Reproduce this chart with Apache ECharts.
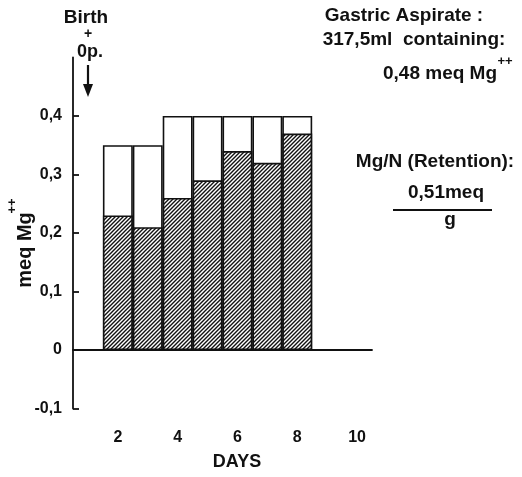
<!DOCTYPE html>
<html><head><meta charset="utf-8">
<script src="https://cdn.jsdelivr.net/npm/echarts@6/dist/echarts.min.js"></script>
<style>html,body{margin:0;padding:0;background:#fff}#c{width:522px;height:477px}</style>
</head><body><div id="c"></div>
<script>
const days = ['1','2','3','4','5','6','7','8','9','10'];
const totalMg = [null,0.35,0.35,0.40,0.40,0.40,0.40,0.40,null,null];
const retainedMg = [null,0.23,0.21,0.26,0.29,0.34,0.32,0.37,null,null];
const yTicks = [-0.1,0,0.1,0.2,0.3,0.4];

const FONT = "'Liberation Sans', Arial, sans-serif";
const INK = '#111';

function hatch(){
  const c = document.createElement('canvas');
  c.width = 4; c.height = 4;
  const g = c.getContext('2d');
  g.fillStyle = '#fff'; g.fillRect(0,0,4,4);
  g.strokeStyle = '#111'; g.lineWidth = 1.4;
  g.beginPath();
  g.moveTo(-1,5); g.lineTo(5,-1);
  g.moveTo(-1,1); g.lineTo(1,-1);
  g.moveTo(3,5); g.lineTo(5,3);
  g.stroke();
  return c;
}

const chart = echarts.init(document.getElementById('c'), null, {renderer:'canvas'});
const txt = (x,y,t,size,extra) => Object.assign({type:'text', x, y, style:{text:t, fill:INK, font:`bold ${size}px ${FONT}`, textAlign:'center', textVerticalAlign:'middle'}}, extra||{});

chart.setOption({
  animation:false,
  grid:{left:73, right:150, top:57.5, bottom:68.5, containLabel:false, outerBoundsMode:'none'},
  xAxis:{type:'category', data:days, boundaryGap:true,
    axisLine:{onZero:true, lineStyle:{color:INK, width:1.8}},
    axisTick:{show:false},
    axisLabel:{interval:(i,v)=>(+v)%2===0, margin:21, color:INK, fontSize:16, fontWeight:'bold', fontFamily:FONT},
    splitLine:{show:false}},
  yAxis:{type:'value', min:-0.1, max:0.5, interval:0.1,
    axisLine:{show:true, onZero:false, lineStyle:{color:INK, width:1.8}},
    axisTick:{show:true, inside:true, length:6, lineStyle:{color:INK, width:1.8}, customValues:yTicks},
    axisLabel:{customValues:yTicks, margin:11, color:INK, fontSize:16, fontWeight:'bold', fontFamily:FONT,
      formatter:v=>Math.abs(v)<1e-9?'0':(v<0?'-':'')+Math.abs(v).toFixed(1).replace('.',',')},
    splitLine:{show:false}},
  series:[
    {type:'bar', data:totalMg, barWidth:'100%', barGap:'-100%',
      itemStyle:{color:'#fff', borderColor:INK, borderWidth:1.6}},
    {type:'bar', data:retainedMg, barWidth:'100%', barGap:'-100%',
      itemStyle:{color:{image:hatch(), repeat:'repeat'}, borderColor:INK, borderWidth:1.6}}
  ],
  graphic:[
    txt(86,18,'Birth',19),
    txt(88,34,'+',14),
    txt(90,52,'0p.',18),
    {type:'line', shape:{x1:88,y1:65,x2:88,y2:88}, style:{stroke:INK, lineWidth:2.2}},
    {type:'polygon', shape:{points:[[83,84],[93,84],[88,97]]}, style:{fill:INK}},
    txt(404,16,'Gastric Aspirate :',19),
    txt(414,40,'317,5ml  containing:',19),
    txt(440,74,'0,48 meq Mg',19),
    txt(505,61,'++',13),
    txt(435,162,'Mg/N (Retention):',19),
    txt(446,193,'0,51meq',19),
    {type:'line', shape:{x1:393,y1:210,x2:492,y2:210}, style:{stroke:INK, lineWidth:2}},
    txt(450,220,'g',19),
    txt(237,462,'DAYS',18),
    txt(25,250,'meq Mg',20,{rotation:Math.PI/2}),
    txt(12,206,'++',13,{rotation:Math.PI/2})
  ]
});
</script></body></html>
